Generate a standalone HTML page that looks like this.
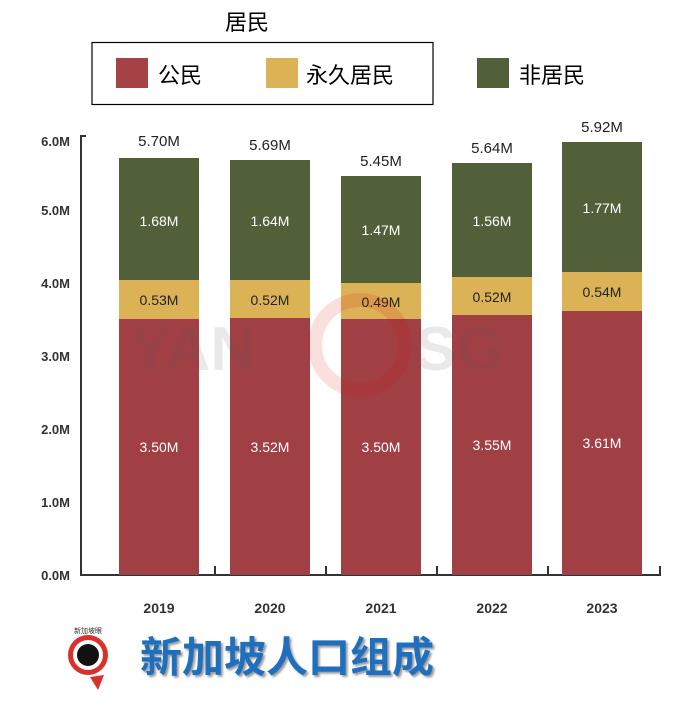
<!DOCTYPE html>
<html><head><meta charset="utf-8"><style>
body{margin:0;background:#fff;width:695px;height:709px;overflow:hidden;font-family:"Liberation Sans","Noto Sans CJK SC",sans-serif}
</style></head><body>
<svg width="695" height="709" xmlns="http://www.w3.org/2000/svg" font-family="Liberation Sans, Noto Sans CJK SC, sans-serif">
<text x="247" y="30" font-size="22" text-anchor="middle" fill="#000">居民</text>
<rect x="92" y="42.5" width="341" height="62" fill="none" stroke="#000" stroke-width="1.2"/>
<rect x="116" y="58" width="32" height="30" fill="#a44246"/>
<text x="158" y="83" font-size="22">公民</text>
<rect x="266" y="58" width="32" height="30" fill="#dcb257"/>
<text x="306" y="83" font-size="22">永久居民</text>
<rect x="477" y="58" width="32" height="30" fill="#52603a"/>
<text x="519" y="83" font-size="22">非居民</text>
<g font-size="13" font-weight="bold" fill="#333" text-anchor="end">
<text x="70" y="146">6.0M</text><text x="70" y="215">5.0M</text><text x="70" y="288">4.0M</text>
<text x="70" y="361">3.0M</text><text x="70" y="434">2.0M</text><text x="70" y="507">1.0M</text><text x="70" y="580">0.0M</text>
</g>
<path d="M86 136 H81 V575 H660 V566 M215 575 V566 M326 575 V566 M437 575 V566 M548 575 V566" fill="none" stroke="#333" stroke-width="2"/>
<g id="bars" font-size="14" text-anchor="middle">
<rect x="119" y="319" width="80" height="256" fill="#a04045"/><rect x="119" y="280" width="80" height="39" fill="#dcb257"/><rect x="119" y="158" width="80" height="122" fill="#52603a"/>
<rect x="230" y="318" width="80" height="257" fill="#a04045"/><rect x="230" y="280" width="80" height="38" fill="#dcb257"/><rect x="230" y="160" width="80" height="120" fill="#52603a"/>
<rect x="341" y="319" width="80" height="256" fill="#a04045"/><rect x="341" y="283" width="80" height="36" fill="#dcb257"/><rect x="341" y="176" width="80" height="107" fill="#52603a"/>
<rect x="452" y="315" width="80" height="260" fill="#a04045"/><rect x="452" y="277" width="80" height="38" fill="#dcb257"/><rect x="452" y="163" width="80" height="114" fill="#52603a"/>
<rect x="562" y="311" width="80" height="264" fill="#a04045"/><rect x="562" y="272" width="80" height="39" fill="#dcb257"/><rect x="562" y="142" width="80" height="130" fill="#52603a"/>
<g fill="#fff"><text x="159" y="452">3.50M</text><text x="270" y="452">3.52M</text><text x="381" y="452">3.50M</text><text x="492" y="450">3.55M</text><text x="602" y="448">3.61M</text>
<text x="159" y="226">1.68M</text><text x="270" y="226">1.64M</text><text x="381" y="235">1.47M</text><text x="492" y="226">1.56M</text><text x="602" y="213">1.77M</text></g>
<g fill="#222"><text x="159" y="305">0.53M</text><text x="270" y="305">0.52M</text><text x="381" y="307">0.49M</text><text x="492" y="302">0.52M</text><text x="602" y="297">0.54M</text>
<text x="159" y="146" font-size="15">5.70M</text><text x="270" y="150" font-size="15">5.69M</text><text x="381" y="166" font-size="15">5.45M</text><text x="492" y="153" font-size="15">5.64M</text><text x="602" y="132" font-size="15">5.92M</text></g>
</g>
<g font-size="14" font-weight="bold" fill="#333" text-anchor="middle">
<text x="159" y="613">2019</text><text x="270" y="613">2020</text><text x="381" y="613">2021</text><text x="492" y="613">2022</text><text x="602" y="613">2023</text>
</g>
<g opacity="0.12" fill="#a04045"><text x="130" y="370" font-size="62" font-weight="bold" fill="#555">YAN</text><circle cx="360" cy="345" r="45" fill="none" stroke="#d00" stroke-width="14"/><text x="415" y="370" font-size="62" font-weight="bold" fill="#555">SG</text></g>
<path d="M90 677 L98 690 L104 675Z" fill="#d9312b"/>
<circle cx="88" cy="655" r="20" fill="#d9312b"/><circle cx="88" cy="655" r="15" fill="#fff"/><circle cx="88" cy="655" r="11" fill="#111"/>
<text x="74" y="633" font-size="7" fill="#333">新加坡眼</text>
<text x="140" y="672" font-size="42" font-weight="bold" fill="#1f6fbf" style="text-shadow:2px 2px 2px #999">新加坡人口组成</text>
</svg>
</body></html>
